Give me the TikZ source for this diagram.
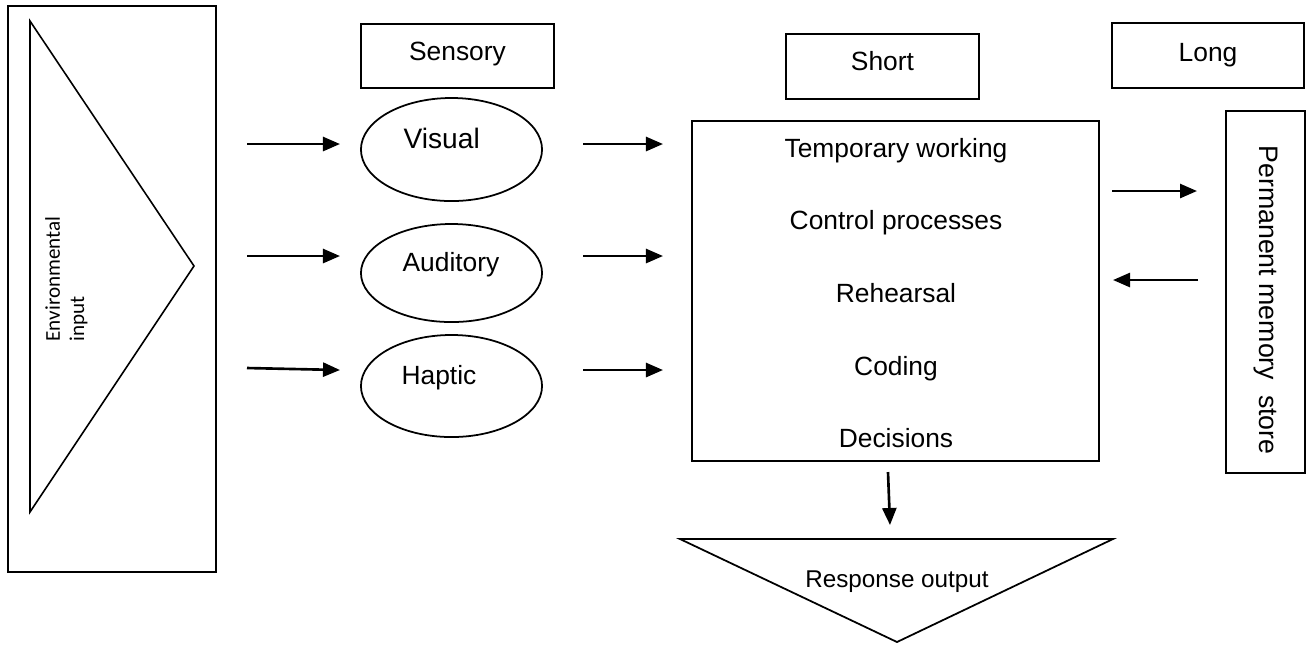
\documentclass[tikz,border=0pt]{standalone}
\usepackage{fontspec}
\setmainfont{Liberation Sans}
\newfontfamily\calib{Carlito}
\usetikzlibrary{arrows.meta,shapes.geometric}
\tikzset{
  frame/.style={draw, line width=0.5pt, inner sep=0pt, rectangle},
  oval/.style={draw, line width=0.5pt, inner sep=0pt, ellipse},
  txt/.style={anchor=base, inner sep=0pt, font=\fontsize{7.5}{9}\selectfont},
  bigtxt/.style={anchor=base, inner sep=0pt, font=\fontsize{8}{9.6}\selectfont},
  envtxt/.style={anchor=base west, rotate=90, inner sep=0pt, font=\calib\fontsize{6}{7}\selectfont},
  arr/.style={line width=0.75pt, -{Triangle[length=0.17cm, width=0.14cm]}},
}
\begin{document}
\begin{tikzpicture}[x=0.01cm, y=-0.01cm]
\useasboundingbox (0,0) rectangle (1315,644);
% environmental input
\node[frame, line width=0.7pt, minimum width=2.08cm, minimum height=5.66cm] (env) at (112,289) {};
\draw[line width=0.45pt] (30,21) -- (194,266) -- (30,512) -- cycle;
\node[envtxt] (envt1) at (60,342) {Environmental};
\node[envtxt] (envt2) at (84,342) {input};
% headers
\node[frame, minimum width=1.93cm, minimum height=0.64cm] (sens) at (457.5,56) {};
\node[txt] (senst) at (457.5,60.7) {Sensory};
\node[frame, minimum width=1.93cm, minimum height=0.65cm] (short) at (882.5,66.5) {};
\node[txt] (shortt) at (882.5,70.7) {Short};
\node[frame, minimum width=1.92cm, minimum height=0.65cm] (long) at (1208,55.5) {};
\node[txt] (longt) at (1208,61.7) {Long};
% ellipses
\node[oval, minimum width=1.81cm, minimum height=1.03cm] (vis) at (451.5,149.5) {};
\node[bigtxt] (vist) at (441.7,148) {Visual};
\node[oval, minimum width=1.81cm, minimum height=0.98cm] (aud) at (451.5,273) {};
\node[txt] (audt) at (451,271) {Auditory};
\node[oval, minimum width=1.81cm, minimum height=1.02cm] (hap) at (451.5,386) {};
\node[txt] (hapt) at (439,384) {Haptic};
% short-term box
\node[frame, minimum width=4.07cm, minimum height=3.40cm] (stm) at (895.5,291) {};
\node[txt] (s1) at (896,157) {Temporary working};
\node[txt] (s2) at (896,229) {Control processes};
\node[txt] (s3) at (896,302) {Rehearsal};
\node[txt] (s4) at (896,375) {Coding};
\node[txt] (s5) at (896,447) {Decisions};
% long-term box
\node[frame, minimum width=0.79cm, minimum height=3.62cm] (ltm) at (1265.5,292) {};
\node[rotate=-90, inner sep=0pt, font=\fontsize{7.6}{9}\selectfont] (ltmt) at (1266,300) {Permanent memory\ \ store};
% response output
\draw[line width=0.5pt] (680,539) -- (1113,539) -- (897,642) -- cycle;
\node[anchor=base, inner sep=0pt, font=\fontsize{6.9}{8}\selectfont] (resp) at (897,587.7) {Response output};
% arrow end points
\coordinate (a1s) at (247,144); \coordinate (a1e) at (340,144);
\coordinate (a2s) at (247,256); \coordinate (a2e) at (340,256);
\coordinate (a3s) at (247,368); \coordinate (a3e) at (340,370);
\coordinate (b1s) at (583,144); \coordinate (b1e) at (663,144);
\coordinate (b2s) at (583,256); \coordinate (b2e) at (663,256);
\coordinate (b3s) at (583,370); \coordinate (b3e) at (663,370);
\coordinate (c1s) at (1112,191); \coordinate (c1e) at (1197,191);
\coordinate (c2s) at (1198,280); \coordinate (c2e) at (1113,280);
\coordinate (ds) at (888,472); \coordinate (de) at (890,525);
\draw[arr] (a1s) -- (a1e);
\draw[arr] (a2s) -- (a2e);
\draw[arr] (a3s) -- (a3e);
\draw[arr] (b1s) -- (b1e);
\draw[arr] (b2s) -- (b2e);
\draw[arr] (b3s) -- (b3e);
\draw[arr] (c1s) -- (c1e);
\draw[arr] (c2s) -- (c2e);
\draw[arr] (ds) -- (de);
\end{tikzpicture}
\end{document}
